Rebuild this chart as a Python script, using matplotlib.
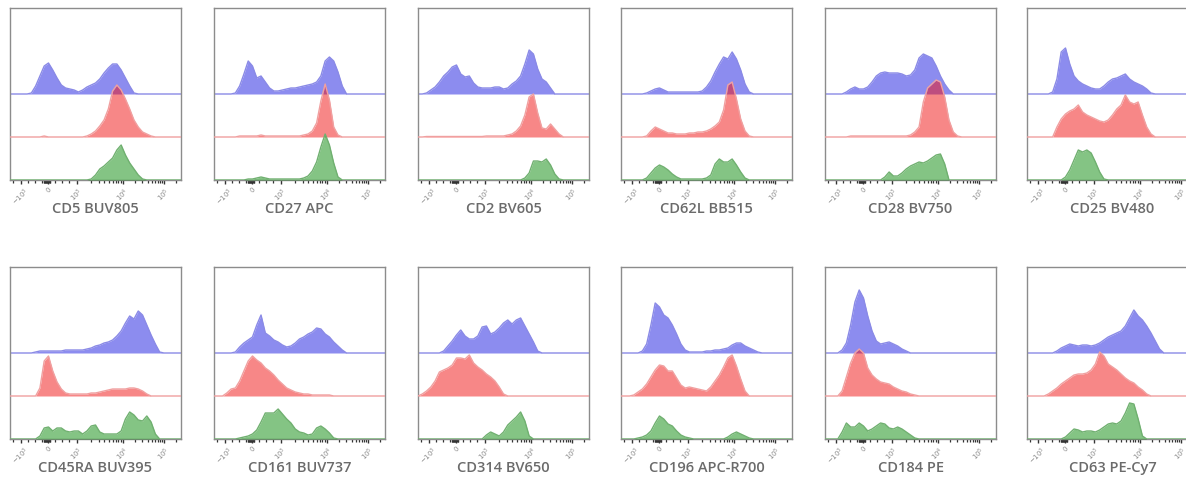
import numpy as np
import matplotlib
matplotlib.use("Agg")
import matplotlib.pyplot as plt

# Shared histogram bin positions on the display (biexponential) channel axis
channels = list(range(0, 1001, 25))

markers = ["CD5 BUV805", "CD27 APC", "CD2 BV605", "CD62L BB515", "CD28 BV750", "CD25 BV480",
           "CD45RA BUV395", "CD161 BUV737", "CD314 BV650", "CD196 APC-R700", "CD184 PE", "CD63 PE-Cy7"]

Z11 = [0] * 11

blue_counts = [
    [0, 0, 0, 0, 0, 1, 8, 18, 28, 31, 24, 16, 9, 6, 5, 4, 2, 4, 7, 9,
     11, 15, 21, 26, 30, 30, 24, 16, 8, 1] + Z11,
    [0, 0, 0, 0, 0, 1, 8, 20, 33, 28, 16, 18, 12, 6, 3, 3, 4, 5, 6, 6,
     7, 8, 9, 10, 12, 18, 33, 37, 33, 22, 8, 0, 0, 0, 0, 0, 0, 0, 0, 0, 0],
    [0, 0, 1, 4, 7, 12, 18, 22, 27, 29, 20, 17, 18, 11, 7, 6, 6, 6, 7, 7,
     5, 6, 10, 13, 18, 30, 44, 40, 25, 15, 12, 6, 0, 0, 0, 0, 0, 0, 0, 0, 0],
    [0, 0, 0, 0, 0, 0, 1, 3, 5, 6, 4, 2, 2, 2, 2, 2, 2, 2, 2, 3,
     7, 13, 22, 30, 37, 35, 42, 35, 24, 10, 2, 0, 0, 0, 0, 0, 0, 0, 0, 0, 0],
    [0, 0, 0, 0, 0, 2, 5, 7, 5, 5, 7, 12, 18, 21, 22, 21, 21, 21, 20, 18,
     19, 24, 36, 40, 38, 36, 28, 18, 10, 4] + Z11,
    [0, 0, 0, 0, 0, 0, 2, 15, 42, 46, 30, 18, 13, 10, 8, 6, 5, 5, 8, 12,
     15, 16, 18, 20, 15, 12, 10, 8, 5, 1] + Z11,
    [0, 0, 0, 0, 0, 0, 1, 2, 2, 2, 2, 2, 2, 3, 3, 3, 3, 3, 4, 5,
     7, 8, 10, 11, 13, 17, 22, 30, 37, 34, 42, 38, 28, 18, 9, 1, 0, 0, 0, 0, 0],
    [0, 0, 0, 0, 0, 1, 6, 10, 13, 16, 28, 38, 20, 17, 13, 11, 8, 6, 7, 10,
     14, 16, 19, 21, 25, 24, 19, 16, 11, 7, 3, 0, 0, 0, 0, 0, 0, 0, 0, 0, 0],
    [0, 0, 0, 0, 0, 0, 2, 7, 12, 18, 23, 17, 14, 14, 17, 26, 27, 19, 21, 25,
     30, 33, 29, 33, 35, 27, 19, 11, 2, 0] + Z11,
    [0, 0, 0, 0, 0, 2, 9, 28, 50, 46, 38, 35, 28, 19, 9, 3, 1, 1, 1, 1,
     2, 2, 3, 3, 4, 5, 8, 10, 10, 7, 5, 3, 1, 0, 0, 0, 0, 0, 0, 0, 0],
    [0, 0, 0, 0, 3, 10, 28, 51, 63, 55, 37, 22, 12, 9, 10, 11, 9, 7, 4, 2,
     0, 0, 0, 0, 0, 0, 0, 0, 0, 0] + Z11,
    [0, 0, 0, 0, 0, 0, 0, 2, 5, 7, 9, 8, 7, 8, 8, 7, 8, 10, 13, 16,
     18, 20, 22, 27, 35, 43, 37, 33, 27, 20, 12, 4, 0, 0, 0, 0, 0, 0, 0, 0, 0],
]

red_counts = [
    [0, 0, 0, 0, 0, 0, 0, 0, 1, 0, 0, 0, 0, 0, 0, 0, 0, 0, 1, 3,
     6, 11, 17, 28, 46, 52, 47, 38, 28, 17, 10, 5, 3, 1, 0, 0, 0, 0, 0, 0, 0],
    [0, 0, 0, 0, 0, 0, 1, 1, 1, 1, 1, 2, 1, 1, 1, 1, 1, 1, 1, 1,
     1, 2, 3, 6, 14, 36, 53, 37, 10, 2] + Z11,
    [0, 0, 0.5, 0.5, 0.5, 0.5, 0.5, 0.5, 0.5, 0.5, 0.5, 0.5, 0.5, 0.5, 0.5, 0.5, 1, 1, 1, 1,
     1, 2, 3, 6, 11, 22, 40, 43, 24, 9, 8, 13, 8, 3, 0, 0, 0, 0, 0, 0, 0],
    [0, 0, 0, 0, 0, 0, 1, 6, 10, 8, 6, 4, 4, 3, 3, 3, 4, 4, 5, 5,
     6, 8, 11, 15, 27, 52, 55, 38, 18, 6, 1, 0, 0, 0, 0, 0, 0, 0, 0, 0, 0],
    [0, 0, 0, 0, 0, 0, 1, 1, 1, 1, 1, 1, 1, 1, 1, 1, 1, 1, 1, 1,
     2, 5, 10, 35, 49, 53, 57, 55, 40, 17, 5, 1, 0, 0, 0, 0, 0, 0, 0, 0, 0],
    [0, 0, 0, 0, 0, 0, 0, 10, 18, 23, 26, 28, 32, 25, 22, 20, 18, 16, 15, 17,
     22, 28, 32, 42, 35, 33, 35, 22, 10, 3] + Z11,
    [0, 0, 0, 0, 0, 0, 0, 8, 35, 40, 25, 14, 7, 3, 2, 2, 2, 2, 2, 3,
     3, 4, 5, 6, 7, 7, 7, 7, 8, 8, 7, 5, 2, 0, 0, 0, 0, 0, 0, 0, 0],
    [0, 0, 0, 3, 7, 8, 15, 25, 35, 40, 36, 33, 28, 25, 21, 16, 12, 8, 6, 4,
     3, 2, 2, 1, 1, 1, 1, 1, 0, 0] + Z11,
    [0, 2, 5, 9, 15, 24, 26, 28, 31, 38, 38, 37, 41, 33, 29, 26, 22, 19, 15, 9,
     2, 0, 0, 0, 0, 0, 0, 0, 0, 0] + Z11,
    [0, 0, 0, 1, 4, 7, 12, 19, 26, 31, 30, 25, 25, 18, 11, 8, 9, 8, 7, 6,
     5, 9, 15, 21, 29, 38, 41, 30, 17, 5] + Z11,
    [0, 0, 0, 0, 5, 19, 33, 43, 47, 43, 28, 21, 17, 14, 13, 12, 9, 7, 5, 4,
     2, 1, 0, 0, 0, 0, 0, 0, 0, 0] + Z11,
    [0, 0, 0, 0, 0, 2, 5, 8, 12, 15, 18, 21, 22, 22, 23, 26, 32, 44, 40, 32,
     29, 26, 22, 18, 15, 13, 9, 6, 2, 0] + Z11,
]

green_counts = [
    [0, 0, 0, 0, 0, 0, 0, 0, 0, 0, 0, 0, 0, 0, 0, 0, 0, 0, 0, 1,
     5, 11, 14, 18, 22, 30, 35, 25, 17, 11, 5, 1, 0, 0, 0, 0, 0, 0, 0, 0, 0],
    [0, 0, 0, 0, 0, 0, 0, 0, 1, 1, 2, 3, 2, 1, 1, 1, 1, 1, 1, 1,
     1, 2, 4, 9, 18, 33, 46, 35, 17, 3] + Z11,
    [0, 0, 0, 0, 0, 0, 0, 0, 0, 0, 0, 0, 0, 0, 0, 0, 0, 0, 0, 0,
     0, 0, 0, 0, 0, 2, 7, 19, 19, 18, 21, 15, 6, 1, 0, 0, 0, 0, 0, 0, 0],
    [0, 0, 0, 0, 0, 0, 2, 7, 12, 15, 13, 10, 6, 3, 1, 1, 1, 1, 1, 1,
     2, 5, 16, 21, 18, 18, 21, 15, 8, 2] + Z11,
    [0, 0, 0, 0, 0, 0, 0, 0, 0, 0, 0, 0, 0, 0, 3, 8, 4, 4, 7, 11,
     14, 16, 18, 17, 19, 22, 25, 26, 16, 0] + Z11,
    [0, 0, 0, 0, 0, 0, 0, 0, 0, 3, 10, 20, 30, 28, 30, 27, 18, 8, 1, 0,
     0, 0, 0, 0, 0, 0, 0, 0, 0, 0] + Z11,
    [0, 0, 0, 0, 0, 0, 0, 3, 11, 12, 8, 11, 11, 8, 7, 8, 8, 5, 8, 13,
     14, 7, 5, 5, 5, 5, 8, 20, 27, 24, 19, 18, 23, 17, 5, 0, 0, 0, 0, 0, 0],
    [0, 0, 0, 0, 0, 0, 1, 2, 3, 5, 9, 17, 26, 26, 26, 30, 25, 20, 16, 10,
     7, 6, 4, 5, 11, 13, 10, 6, 1, 0] + Z11,
    [0, 0, 0, 0, 0, 0, 0, 0, 0, 0, 0, 0, 0, 0, 0, 0, 4, 7, 5, 3,
     7, 14, 18, 22, 27, 18, 3, 0, 0, 0] + Z11,
    [0, 0, 0, 0, 1, 2, 4, 8, 16, 23, 20, 15, 13, 8, 4, 2, 1, 0, 0, 0,
     0, 0, 0, 0, 0, 2, 5, 7, 5, 3, 1, 0, 0, 0, 0, 0, 0, 0, 0, 0, 0],
    [0, 0, 0, 0, 7, 16, 12, 12, 16, 13, 8, 10, 13, 16, 15, 11, 10, 12, 10, 7,
     4, 1, 0, 0, 0, 0, 0, 0, 0, 0] + Z11,
    [0, 0, 0, 0, 0, 0, 0, 0, 0, 2, 6, 10, 9, 7, 8, 8, 7, 9, 12, 15,
     16, 15, 18, 26, 36, 35, 20, 3, 0, 0] + Z11,
]

major_tick_channels = [65, 225, 390, 660, 900]
major_tick_labels = [r"$-10^3$", "0", r"$10^3$", r"$10^4$", r"$10^5$"]

# Minor ticks: linear region around zero (dense near 0), log decades above 10^3
minor_ticks = [20, 105, 145, 185, 265, 305, 345]
minor_ticks += list(range(198, 236, 3))
for lo, span in ((390, 270), (660, 240)):
    minor_ticks += [lo + span * np.log10(m) for m in range(2, 10)]
minor_ticks += [900 + 240 * np.log10(2)]

BAND = 43  # vertical offset between stacked histograms
series = [
    (blue_counts, 2 * BAND, "#1a1ae0", "#8a8ae6"),
    (red_counts, BAND, "#f01010", "#f0a0a0"),
    (green_counts, 0, "#0a8a0a", "#70b070"),
]

W, H = 1186, 480
fig = plt.figure(figsize=(W / 100, H / 100), dpi=100)
fig.patch.set_facecolor("white")

col_left = [10, 214, 418, 621, 825, 1027]
row_top = [8, 267]
aw, ah = 171, 172

x = np.array(channels, dtype=float)
for i, name in enumerate(markers):
    r, c = divmod(i, 6)
    l, t = col_left[c], row_top[r]
    ax = fig.add_axes([l / W, 1 - (t + ah) / H, aw / W, ah / H])
    for z, (data, base, fill_col, line_col) in enumerate(series):
        y = base + np.array(data[i], dtype=float)
        ax.fill_between(x, base, y, color=fill_col, alpha=0.5, lw=0, zorder=2 + z)
        ax.plot(x, y, color=line_col, lw=1.0, zorder=2.5 + z)
    ax.set_xlim(0, 1000)
    ax.set_ylim(0, 4 * BAND)
    ax.set_yticks([])
    ax.set_xticks(major_tick_channels)
    ax.set_xticklabels(major_tick_labels, rotation=45, ha="center")
    ax.set_xticks(minor_ticks, minor=True)
    ax.tick_params(axis="x", which="major", direction="out", length=3, width=1.0,
                   color="#333333", labelsize=5, labelcolor="#8a8a8a", pad=1.5)
    ax.tick_params(axis="x", which="minor", direction="out", length=2, width=0.9,
                   color="#333333")
    for sp in ax.spines.values():
        sp.set_color("#8c8c8c")
        sp.set_linewidth(1.0)
    fig.text((l + aw / 2) / W, 1 - (t + ah + 29) / H, name, ha="center", va="center",
             fontsize=10.5, color="#6b6b6b", family="Open Sans", fontweight="semibold")

fig.savefig("out.png", dpi=100, facecolor="white")
